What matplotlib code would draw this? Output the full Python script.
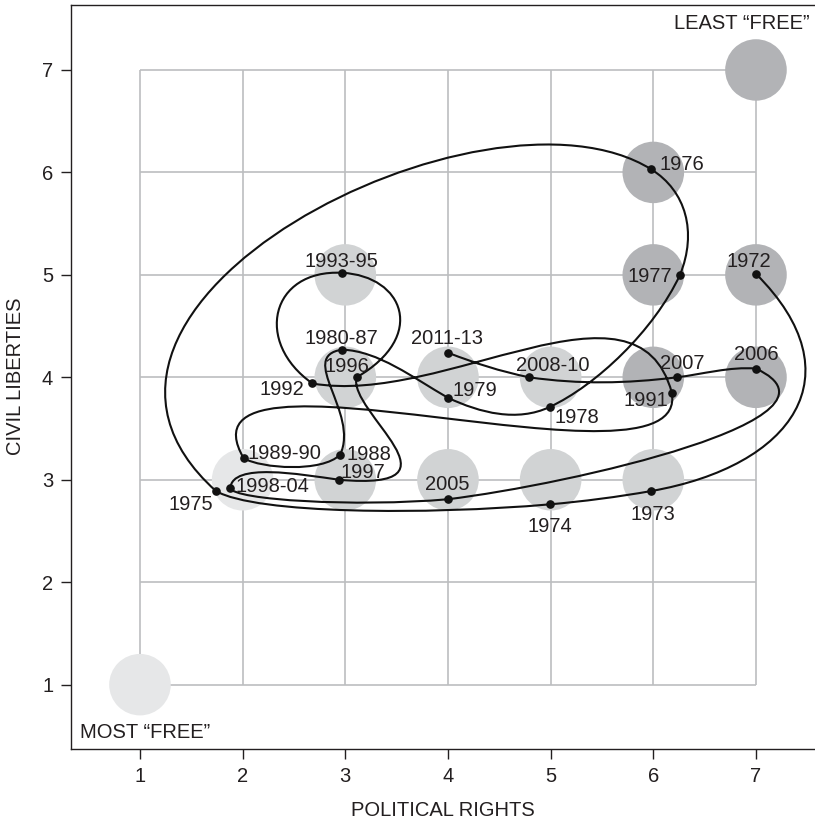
import numpy as np
import matplotlib
matplotlib.use("Agg")
import matplotlib.pyplot as plt
from matplotlib.path import Path
from matplotlib.patches import PathPatch, Ellipse

plt.rcParams['font.family'] = ['Liberation Sans', 'DejaVu Sans']

# ---------------- data ----------------
years = ['1972', '1973', '1974', '1975', '1976', '1977', '1978', '1979', '1980-87',
         '1988', '1989-90', '1991', '1992', '1993-95', '1996', '1997', '1998-04',
         '2005', '2006', '2007', '2008-10', '2011-13']
political_rights = [7.00, 5.98, 4.99, 1.74, 5.98, 6.26, 4.99, 4.00, 2.97,
                    2.95, 2.01, 6.18, 2.68, 2.97, 3.11, 2.94, 1.88,
                    4.00, 7.00, 6.23, 4.79, 4.00]
civil_liberties = [5.01, 2.89, 2.76, 2.89, 6.03, 5.00, 3.71, 3.80, 4.27,
                   3.245, 3.21, 3.85, 3.94, 5.02, 4.00, 3.00, 2.92,
                   2.81, 4.085, 4.00, 4.00, 4.24]

# background status bubbles (0 = free, 1 = partly free, 2 = not free)
bubble_pr = [1, 2, 3, 4, 5, 6, 3, 4, 5, 6, 7, 3, 6, 7, 6, 7]
bubble_cl = [1, 3, 3, 3, 3, 3, 4, 4, 4, 4, 4, 5, 5, 5, 6, 7]
bubble_status = [0, 0, 1, 1, 1, 1, 1, 1, 1, 2, 2, 1, 2, 2, 2, 2]

tick_values = [1, 2, 3, 4, 5, 6, 7]

# ---------------- curve shape (pen heading in degrees at each point, handle lengths) ----------------
heading_in = [-45, 190, 185, 150, -32, -112, 205, 155, 178, 245, 150, 100, 170, -3,
              210, 175, -95, 5, 155, 187, 172, 159]
heading_out = [-45, 190, 185, 138, -32, -115, 205, 150, 188, 225, 120, 105, 145, -3,
               255, 172, -80, 7, 175, 187, 168, 159]
handle_in = [0, 1.4, 0.33, 0.45, 1.9, 0.45, 0.5, 0.35, 0.35, 0.45, 0.2, 1.1, 1.3,
             0.7, 0.8, 1.3, 0.25, 0.9, 1.15, 0.25, 0.5, 0.3]
handle_out = [1.4, 0.33, 1.2, 2.7, 0.4, 0.6, 0.35, 0.4, 0.45, 0.25, 1.5, 1.3, 0.7,
              0.6, 0.35, 0.4, 0.12, 1.2, 0.25, 0.5, 0.3, 0]

# label placement: offset in pixels from dot (to text anchor), horizontal alignment
label_layout = {
    '1972': (-7, 14, 'center'), '1973': (2, -22, 'center'), '1974': (0, -21, 'center'),
    '1975': (-3, -12, 'right'), '1976': (8, 6, 'left'), '1977': (-8, 0, 'right'),
    '1978': (5, -9, 'left'), '1979': (5, 9, 'left'), '1980-87': (-1, 13, 'center'),
    '1988': (6, 2, 'left'), '1989-90': (4, 6, 'left'), '1991': (-4, -6, 'right'),
    '1992': (-8, -5, 'right'), '1993-95': (-1, 13, 'center'), '1996': (-10, 12, 'center'),
    '1997': (1, 9, 'left'), '1998-04': (5, 3, 'left'), '2005': (-1, 16, 'center'),
    '2006': (0, 16, 'center'), '2007': (5, 15, 'center'), '2008-10': (24, 13, 'center'),
    '2011-13': (-1, 16, 'center'),
}

status_colors = ['#e6e7e8', '#d1d3d4', '#b2b3b6']
text_color = '#231f20'
grid_color = '#bcbec0'
FS = 14.5

W, H = 815, 819
fig = plt.figure(figsize=(W / 100, H / 100), dpi=100)
left_px, bottom_px, top_px = 71.3, 748.7, 4.7
ax = fig.add_axes([left_px / W, 1 - bottom_px / H, (W - left_px) / W, (bottom_px - top_px) / H])
ax.set_xlim(0.331, 7.575)
ax.set_ylim(0.375, 7.637)

# grid limited to the 1..7 box
lo, hi = min(tick_values), max(tick_values)
for v in tick_values:
    ax.plot([lo, hi], [v, v], color=grid_color, lw=1.2, zorder=0, solid_capstyle='butt')
    ax.plot([v, v], [lo, hi], color=grid_color, lw=1.2, zorder=0, solid_capstyle='butt')

# bubbles
for bx, by, st in zip(bubble_pr, bubble_cl, bubble_status):
    ax.add_patch(Ellipse((bx, by), 0.60, 0.60, facecolor=status_colors[st],
                         edgecolor='none', zorder=1))

# smooth connected path (cubic Bezier through the points)
px = np.array(political_rights)
py = np.array(civil_liberties)
a_in = np.deg2rad(heading_in)
a_out = np.deg2rad(heading_out)
verts = [(px[0], py[0])]
codes = [Path.MOVETO]
for i in range(len(px) - 1):
    c1 = (px[i] + handle_out[i] * np.cos(a_out[i]), py[i] + handle_out[i] * np.sin(a_out[i]))
    c2 = (px[i + 1] - handle_in[i + 1] * np.cos(a_in[i + 1]),
          py[i + 1] - handle_in[i + 1] * np.sin(a_in[i + 1]))
    verts += [c1, c2, (px[i + 1], py[i + 1])]
    codes += [Path.CURVE4] * 3
ax.add_patch(PathPatch(Path(verts, codes), facecolor='none', edgecolor='#111111',
                       lw=1.5, zorder=3))
ax.plot(px, py, 'o', color='#111111', ms=5.2, zorder=4)

for yr, x, y in zip(years, px, py):
    dx, dy, ha = label_layout[yr]
    ax.annotate(yr, (x, y), xytext=(dx, dy - 7), textcoords='offset pixels',
                ha=ha, va='baseline', fontsize=FS, color=text_color, zorder=5)

ax.text(0.416, 0.533, 'MOST \u201cFREE\u201d', ha='left', va='center', fontsize=FS, color=text_color)
ax.text(7.526, 7.456, 'LEAST \u201cFREE\u201d', ha='right', va='center', fontsize=FS, color=text_color)

ax.set_xticks(tick_values)
ax.set_yticks(tick_values)
ax.set_xticklabels([str(t) for t in tick_values])
ax.set_yticklabels([str(t) for t in tick_values])
ax.tick_params(direction='out', length=7, width=1.0, colors=text_color, labelsize=FS, pad=6)
ax.spines['right'].set_visible(False)
for s in ['left', 'bottom', 'top']:
    ax.spines[s].set_color(text_color)
    ax.spines[s].set_linewidth(1.0)
ax.set_xlabel('POLITICAL RIGHTS', fontsize=FS, color=text_color, labelpad=11)
ax.set_ylabel('CIVIL LIBERTIES', fontsize=FS, color=text_color, labelpad=12)

fig.savefig('out.png', dpi=100)
